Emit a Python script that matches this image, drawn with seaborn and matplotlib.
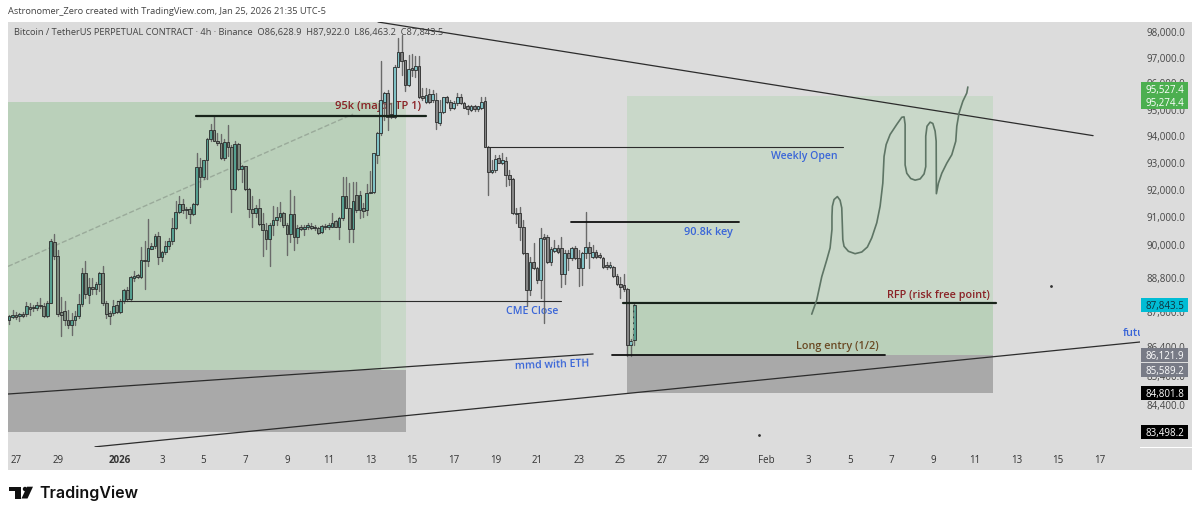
#!/usr/bin/env python3
import numpy as np
import matplotlib
matplotlib.use("Agg")
import matplotlib.pyplot as plt
from matplotlib.patches import Rectangle, Polygon, Circle
from matplotlib.ticker import NullLocator
from matplotlib.transforms import IdentityTransform
import seaborn as sns

# 4h candles, Dec 26 16:00 to Jan 25 16:00
opens = [
    87310, 87430, 87510, 87460, 87540, 87540, 87790, 87730, 87750, 87860,
    87810, 87455, 87930, 90110, 89600, 87600, 87630, 87310, 87160, 87310,
    87455, 87870, 89000, 88190, 88500, 88430, 88585, 89000, 87910, 87570,
    87570, 87835, 87600, 87990, 88385, 88050, 88820, 88905, 88850, 89450,
    89395, 89860, 89955, 90310, 89540, 89720, 89955, 90130, 90610, 91200,
    91465, 91260, 91285, 91100, 91465, 92825, 92490, 93085, 93880, 94230,
    93830, 93755, 93190, 93790, 93605, 92030, 93695, 92765, 92865, 92030,
    91285, 91140, 91320, 90750, 90515, 90200, 90720, 90880, 91020, 91160,
    90720, 90390, 91110, 90265, 90625, 90575, 90625, 90690, 90650, 90590,
    90450, 90675, 90650, 90650, 90840, 90625, 90960, 91755, 91340, 90550,
    91800, 91255, 91315, 91255, 91890, 91930, 93295, 94130, 95305, 95650,
    94840, 94735, 96655, 97200, 96890, 95950, 96590, 96525, 96680, 95525,
    95305, 95590, 95370, 95370, 94510, 94925, 95470, 95305, 95055, 95245,
    95500, 95245, 95120, 94990, 95120, 95015, 95055, 95330, 93600, 92640,
    92715, 93170, 92985, 93050, 92555, 92385, 91115, 91165, 90630, 89690,
    88380, 89365, 89150, 88735, 90285, 90285, 89390, 89785, 89895, 89895,
    88945, 89715, 89510, 89870, 89510, 89150, 89690, 89905, 89545, 89725,
    89630, 89535, 89270, 89210, 89185, 88875, 88595, 88560, 88405, 86450, 86628.9,
]
closes = [
    87480, 87510, 87430, 87550, 87480, 87810, 87720, 87790, 87860, 87810,
    87480, 87930, 90130, 89600, 87550, 87510, 87310, 87160, 87310, 87455,
    87870, 89000, 88230, 88470, 88430, 88585, 89000, 87910, 87550, 87455,
    87810, 87600, 87990, 88385, 88050, 88825, 88860, 88825, 89450, 89395,
    89895, 89955, 90310, 89540, 89720, 89955, 90130, 90610, 91200, 91465,
    91260, 91300, 91100, 91465, 92825, 92490, 93085, 93880, 94230, 93830,
    93755, 93170, 93790, 93605, 92030, 93695, 92765, 92865, 92030, 91285,
    91140, 91320, 90750, 90515, 90200, 90720, 90880, 91020, 91160, 90720,
    90390, 91110, 90290, 90600, 90560, 90650, 90700, 90610, 90590, 90430,
    90675, 90625, 90700, 90800, 90650, 90960, 91755, 91340, 90550, 91600,
    91255, 91800, 91230, 91890, 91930, 93380, 94130, 95370, 95650, 94735,
    94710, 96655, 97200, 96860, 95950, 96550, 96525, 96680, 95500, 95435,
    95565, 95305, 95590, 94545, 94925, 95470, 95305, 95055, 95270, 95500,
    95245, 95080, 95030, 95145, 95015, 95120, 95305, 93600, 92640, 92740,
    93135, 93010, 93085, 92555, 92385, 91140, 91165, 90630, 89690, 88380,
    89365, 89150, 88735, 90225, 90200, 89390, 89835, 89870, 89750, 88945,
    89715, 89510, 89870, 89510, 89175, 89690, 89905, 89715, 89750, 89570,
    89545, 89210, 89185, 89270, 88875, 88595, 88500, 88405, 86450, 86600, 87843.5,
]
highs = [
    87510, 87670, 87600, 87570, 87600, 87955, 87910, 87840, 87955, 88100,
    87910, 87990, 90220, 90390, 89810, 88145, 87990, 87690, 87570, 87630,
    88230, 89145, 89395, 88790, 88790, 88670, 89025, 89220, 87990, 87630,
    88025, 87990, 88050, 88430, 88500, 88880, 89060, 88940, 89930, 90130,
    90940, 90070, 90370, 90465, 89775, 90130, 90250, 90965, 91585, 91780,
    91660, 91380, 91380, 91500, 93380, 93170, 93110, 93920, 94460, 94760,
    94130, 94080, 93880, 94420, 93670, 93830, 93730, 92925, 92890, 92050,
    91755, 91440, 91660, 91140, 90775, 90775, 91400, 91380, 91565, 91200,
    90775, 91990, 91755, 90720, 90720, 90720, 90800, 90775, 90720, 90650,
    90720, 90750, 90800, 91140, 90900, 91020, 92490, 92490, 92250, 92270,
    92270, 91965, 91525, 92210, 92680, 93380, 94170, 96860, 95690, 95750,
    95245, 96730, 97765, 97880, 96920, 97110, 97150, 97070, 97050, 95820,
    95820, 95780, 95750, 95625, 95370, 95500, 95525, 95370, 95330, 95625,
    95600, 95305, 95180, 95180, 95180, 95145, 95470, 95470, 93630, 93110,
    93295, 93295, 93355, 93230, 92730, 92420, 91320, 91355, 90895, 89715,
    89545, 90065, 89185, 90590, 90385, 90345, 89905, 90150, 89990, 90285,
    89810, 89810, 89930, 89955, 89810, 89750, 91200, 90110, 89990, 89810,
    89690, 89570, 89390, 89390, 89235, 88945, 88850, 88945, 88440, 86680, 87922.0,
]
lows = [
    87190, 87400, 87360, 87280, 87430, 87480, 87510, 87630, 87690, 87750,
    87430, 87430, 87910, 89480, 87455, 86765, 87160, 87040, 86800, 87160,
    87400, 87810, 88110, 87910, 88230, 88230, 88350, 87835, 87400, 87190,
    87510, 87570, 87570, 87910, 87990, 87990, 88705, 88790, 88790, 88430,
    89240, 89860, 89895, 89300, 89420, 89655, 89835, 90015, 90550, 91140,
    91160, 90960, 90800, 91080, 91440, 92090, 92390, 92390, 93830, 93800,
    93670, 93135, 93110, 93235, 91200, 91990, 92740, 92300, 91990, 91020,
    90625, 91000, 90720, 89590, 89835, 89235, 90350, 90720, 90840, 90625,
    89625, 90110, 89810, 90070, 90515, 90350, 90560, 90560, 90515, 90390,
    90410, 90560, 90560, 90625, 90625, 90200, 90900, 91315, 90110, 90110,
    91190, 90950, 91010, 91070, 91865, 91865, 93010, 94040, 94610, 94230,
    94670, 94670, 96630, 96320, 95730, 95900, 96270, 96245, 95435, 95370,
    95245, 95270, 95305, 94255, 94420, 94885, 95245, 94990, 95015, 95180,
    95215, 95055, 94840, 94965, 94965, 94965, 95015, 93580, 91805, 92615,
    92640, 92985, 92960, 92150, 92175, 91115, 90775, 90165, 89665, 87815,
    88205, 89115, 88615, 88085, 87235, 89355, 89270, 89750, 89690, 88475,
    88595, 89090, 89450, 89475, 88535, 88555, 89510, 89150, 89510, 89520,
    89510, 89150, 89140, 89175, 88850, 88560, 88085, 88360, 86070, 86070, 86463.2,
]

# axis ticks, x is days since Dec 27
xtick_days = [0, 2, 5, 7, 9, 11, 13, 15, 17, 19, 21, 23, 25, 27, 29, 31, 33, 36,
              38, 40, 42, 44, 46, 48, 50, 52]
xtick_labels = ["27", "29", "2026", "3", "5", "7", "9", "11", "13", "15", "17", "19",
                "21", "23", "25", "27", "29", "Feb", "3", "5", "7", "9", "11", "13",
                "15", "17"]
ytick_prices = [98000, 97000, 96000, 95000, 94000, 93000, 92000, 91000, 90000,
                88800, 87600, 86400, 85400, 84400]

# hand drawn projection
sketch_days = [38.18, 38.42, 38.66, 38.90, 39.06, 39.15, 39.15, 39.17, 39.25, 39.41,
               39.54, 39.62, 39.65, 39.67, 39.73, 39.94, 40.26, 40.58, 40.85, 41.06,
               41.30, 41.46, 41.59, 41.65, 41.75, 41.94, 42.26, 42.50, 42.61, 42.66,
               42.66, 42.74, 42.93, 43.14, 43.38, 43.57, 43.65, 43.65, 43.71, 43.86,
               43.99, 44.10, 44.15, 44.16, 44.26, 44.42, 44.66, 44.90, 45.09, 45.14,
               45.25, 45.43, 45.62, 45.67]
sketch_prices = [87530, 88030, 88850, 89450, 89880, 90547, 91030, 91395, 91640, 91750,
                 91614, 91335, 90670, 90183, 89940, 89760, 89675, 89735, 89915, 90245,
                 90790, 91395, 92245, 93235, 93680, 94060, 94440, 94710, 94725, 94440,
                 92920, 92610, 92415, 92355, 92400, 92585, 92855, 93995, 94370, 94525,
                 94475, 94185, 93805, 91855, 92245, 92610, 92985, 93300, 93805, 94375,
                 94880, 95320, 95635, 95865]

# price tags on the right axis
tag_prices = [95527.4, 95274.4, 87843.5, 86121.9, 85589.2, 84801.8, 83498.2]
tag_colors = ["#4caf50", "#4caf50", "#00bcd4", "#787b86", "#787b86", "#000000", "#000000"]
tag_text_colors = ["white", "white", "#10303a", "white", "white", "white", "white"]
tag_nudges = [7, 0, 0, 0, 0, 0, 0]

BAR_DAYS = (np.arange(len(opens)) - 2) / 6
PANEL = "#dcdcdc"
BLUE = "#3a66d8"
FONT = "Open Sans"


def px(x, y):
    return x / 1200, 1 - y / 517


def draw_line(ax, days, prices, color="#2c2c2c", lw=1.0, ls="-", zorder=5):
    sns.lineplot(x=days, y=prices, sort=False, estimator=None, color=color,
                 linewidth=lw, linestyle=ls, zorder=zorder, ax=ax)


def add_tag(fig, ax, price, color, text_color, nudge):
    y = ax.transData.transform((0, price))[1] + nudge
    fig.add_artist(Rectangle((1141, y - 7), 47, 14, transform=IdentityTransform(),
                             facecolor=color, edgecolor="none", zorder=2))
    fig.text(1164.5 / 1200, y / 517, f"{price:,.1f}", ha="center", va="center_baseline",
             color=text_color, fontsize=7, family=FONT, zorder=3)


def main():
    sns.set_theme(style="white")
    plt.rcParams["font.family"] = [FONT, "DejaVu Sans"]

    fig = plt.figure(figsize=(12, 5.17), dpi=100, facecolor="white")
    fig.add_artist(Rectangle(px(8, 470), 1184 / 1200, 448 / 517, transform=fig.transFigure,
                             facecolor=PANEL, edgecolor="none", zorder=-1))
    ax = fig.add_axes([8 / 1200, 1 - 447 / 517, 1132 / 1200, 425 / 517])
    ax.set_facecolor("none")
    for spine in ax.spines.values():
        spine.set_visible(False)

    ax.set_yscale("log")
    ax.set_ylim(82995, 98393)
    ax.set_xlim(-0.384, 53.93)

    # position zones
    zones = [
        (-0.384, 17.51, 85589.2, 95274.4, "#bad0ba"),
        (17.51, 18.71, 85589.2, 95274.4, "#c9d8c9"),
        (-0.384, 18.71, 83498.2, 85589.2, "#a9a9a9"),
        (29.32, 46.88, 87843.5, 95527.4, "#c9d8c9"),
        (29.32, 46.88, 86121.9, 87843.5, "#bad0ba"),
        (29.32, 46.88, 84801.8, 86121.9, "#a9a9a9"),
    ]
    for d0, d1, p0, p1, color in zones:
        ax.add_patch(Rectangle((d0, p0), d1 - d0, p1 - p0, facecolor=color,
                               edgecolor="none", zorder=1))

    # dashed trade line
    draw_line(ax, [-0.384, 16.17], [89220, 94830], color="#9aaa9a", lw=1.0, ls="--", zorder=2)

    # text sits under the candles like on the chart
    red = "#8a2226"
    ax.text(15.31, 95138, "95k (major TP 1)", color=red, fontsize=8, fontweight="semibold",
            va="center", zorder=3)
    ax.text(41.79, 88203, "RFP (risk free point)", color=red, fontsize=7.8, fontweight="semibold",
            va="center", zorder=6)
    ax.text(37.43, 86420, "Long entry (1/2)", color="#6a4a24", fontsize=7.8, fontweight="semibold",
            va="center", zorder=6)
    ax.text(36.23, 93252, "Weekly Open", color=BLUE, fontsize=7.6, fontweight="semibold",
            va="center", zorder=6)
    ax.text(32.05, 90457, "90.8k key", color=BLUE, fontsize=7.8, fontweight="semibold",
            va="center", zorder=6)
    ax.text(23.51, 87640, "CME Close", color=BLUE, fontsize=7.6, fontweight="semibold",
            va="center", zorder=3)
    ax.text(23.94, 85730, "mmd with ETH", color=BLUE, fontsize=7.6, fontweight="semibold",
            va="center", rotation=2, rotation_mode="anchor", zorder=6)
    ax.text(53.12, 86837, "future", color=BLUE, fontsize=7.8, fontweight="semibold",
            va="center", zorder=6, clip_on=True)

    # candles
    opens_a, closes_a = np.array(opens), np.array(closes)
    wick_x = np.repeat(BAR_DAYS, 3)
    wick_y = np.column_stack([lows, highs, [np.nan] * len(lows)]).ravel()
    wick_x[2::3] = np.nan
    ax.plot(wick_x, wick_y, color="#6a6a6a", lw=1.0, zorder=4)
    up = closes_a >= opens_a
    on_green = (BAR_DAYS < 17) | (BAR_DAYS > 29.5)
    fills = np.where(up, np.where(on_green, "#559f90", "#80c2c6"),
                     np.where(on_green, "#7b8a7e", "#858585"))
    ax.bar(BAR_DAYS, np.abs(closes_a - opens_a), bottom=np.minimum(opens_a, closes_a),
           width=0.13, color=fills, edgecolor="#2b2b2b", linewidth=0.6, zorder=4.5)

    # drawn levels and trend lines
    draw_line(ax, [17.37, 51.68], [98393, 94016], lw=0.9)
    draw_line(ax, [-0.384, 27.69], [84775, 86144], lw=0.9)
    draw_line(ax, [3.79, 53.93], [83000, 86559], lw=0.9)
    draw_line(ax, [4.85, 26.15], [87990, 87990], lw=0.8)
    draw_line(ax, [8.64, 19.67], [94769, 94769], color="#18231a", lw=1.6)
    draw_line(ax, [22.6, 39.68], [93604, 93604], lw=0.8)
    draw_line(ax, [26.63, 34.69], [90826, 90826], color="#111111", lw=1.3)
    draw_line(ax, [29.13, 47.02], [87921, 87921], color="#18231a", lw=1.6)
    draw_line(ax, [28.6, 41.7], [86121.9, 86121.9], color="#111111", lw=1.3)
    draw_line(ax, [29.66, 29.6], [87800, 86500], color="#9aaa9a", lw=0.8, ls="--", zorder=6)
    draw_line(ax, sketch_days, sketch_prices, color="#5e7565", lw=1.2)

    # stray dots
    ax.plot([49.66, 35.65], [88522, 83394], ls="none", marker="o", ms=1.0, color="#333333", zorder=5)

    # axes text
    ax.set_xticks(xtick_days, labels=xtick_labels)
    ax.yaxis.tick_right()
    ax.set_yticks(ytick_prices, labels=[f"{p:,.1f}" for p in ytick_prices])
    ax.yaxis.set_minor_locator(NullLocator())
    ax.xaxis.set_minor_locator(NullLocator())
    ax.tick_params(axis="y", length=0, pad=5, labelsize=7, labelcolor="#454545")
    ax.tick_params(axis="x", length=0, pad=6, labelsize=7, labelcolor="#333333")
    for lab in ax.get_xticklabels():
        if lab.get_text() == "2026":
            lab.set_fontweight("bold")
    ax.set_xlabel("")
    ax.set_ylabel("")

    fig.canvas.draw()
    for p, c, tc, n in zip(tag_prices, tag_colors, tag_text_colors, tag_nudges):
        add_tag(fig, ax, p, c, tc, n)
    # white rule under the price axis
    fig.add_artist(Rectangle(px(1140, 447.5), 52 / 1200, 1 / 517, transform=fig.transFigure,
                             facecolor="white", edgecolor="none", zorder=2))

    # header
    x, y = px(8, 12)
    fig.text(x, y, "Astronomer_Zero created with TradingView.com, Jan 25, 2026 21:35 UTC-5",
             fontsize=6.7, color="#444444", va="center")
    x, y = px(14, 33)
    fig.text(x, y, "Bitcoin / TetherUS PERPETUAL CONTRACT · 4h · Binance  O86,628.9  H87,922.0  "
             "L86,463.2  C87,843.5", fontsize=6.7, color="#444444", va="center")

    # logo
    black = "#111111"
    fig.add_artist(Polygon([px(9.3, 486.7), px(20.7, 486.7), px(20.7, 498.5), px(15, 498.5),
                            px(15, 491), px(9.3, 491)], closed=True, transform=fig.transFigure,
                           facecolor=black, edgecolor="none", zorder=2))
    fig.add_artist(Polygon([px(33, 486.7), px(27.5, 498.5), px(21.5, 498.5), px(27, 486.7)],
                           closed=True, transform=fig.transFigure, facecolor=black,
                           edgecolor="none", zorder=2))
    fig.add_artist(Circle((25, 517 - 489), 2.2, transform=IdentityTransform(), facecolor=black,
                          edgecolor="none", zorder=2))
    x, y = px(39, 493)
    fig.text(x, y, "TradingView", fontsize=11.5, color=black, va="center", family="Inter",
             fontweight="semibold")

    fig.savefig("out.png", dpi=100)
    plt.close(fig)


if __name__ == "__main__":
    main()
